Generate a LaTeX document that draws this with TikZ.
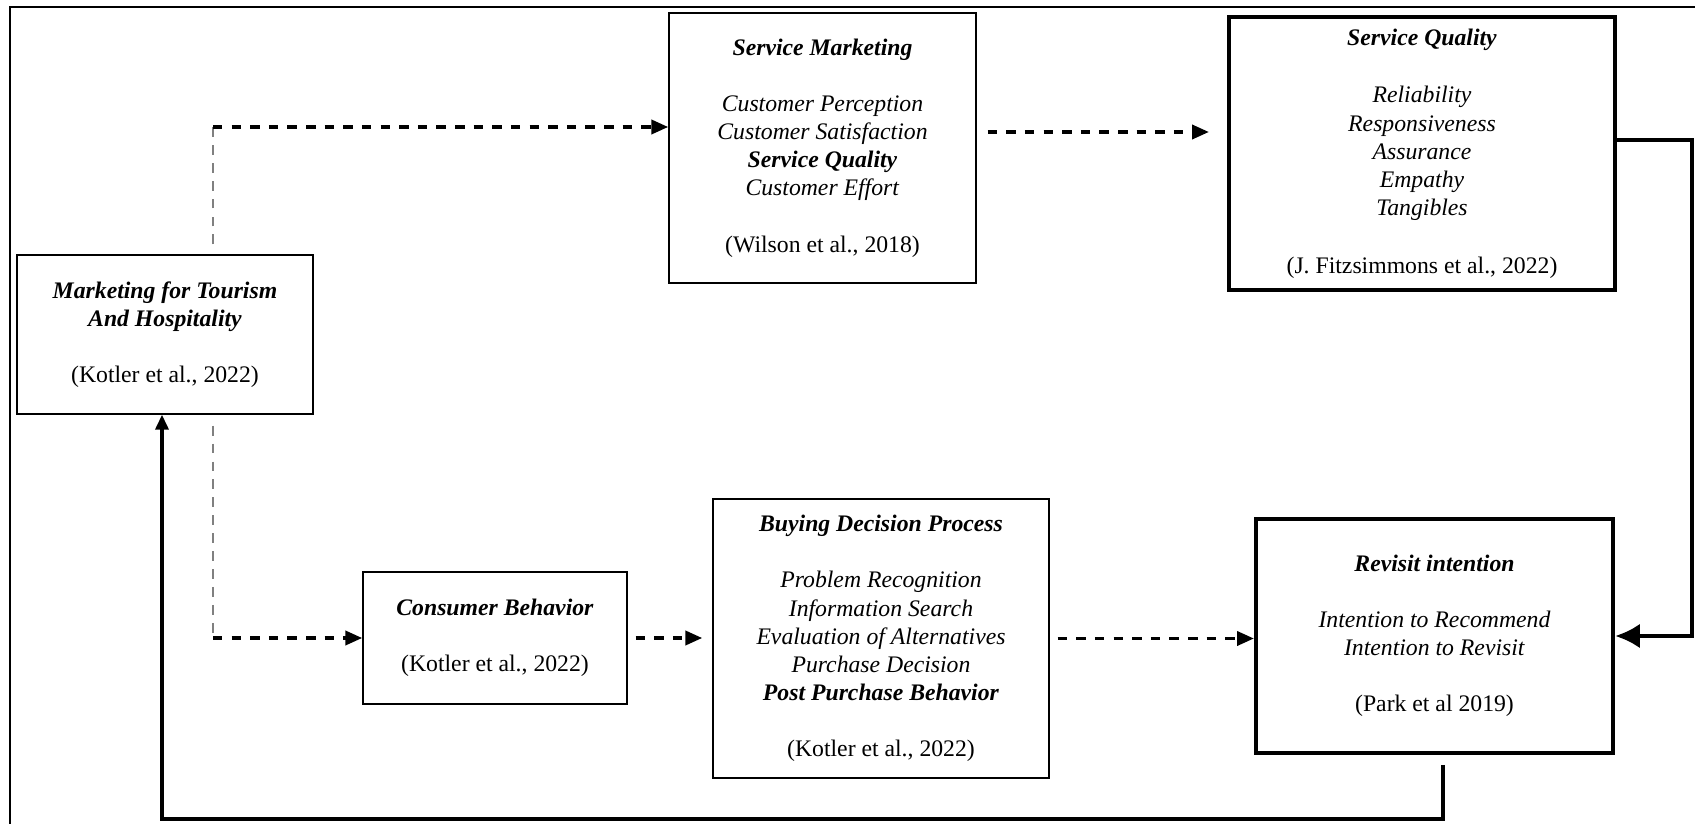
\documentclass[tikz,border=0pt]{standalone}
\usepackage{fontspec}
\setmainfont{Liberation Serif}
\usetikzlibrary{arrows.meta}

\begin{document}
\begin{tikzpicture}[x=0.02cm,y=-0.02cm,
  font=\fontsize{13.5}{16}\selectfont,
  box/.style={draw,line width=0.8pt,align=center,inner sep=0pt},
  heavybox/.style={box,line width=2.3pt},
  flowdash/.style={line width=2.1pt,dash pattern=on 5.4pt off 5.2pt,-{Triangle[length=0.34cm,width=0.28cm]}},
  greydash/.style={black!50,line width=1.4pt,dash pattern=on 5.6pt off 4.6pt},
  thickflow/.style={line width=2.8pt,-{Latex[length=0.5cm,width=0.5cm]}},
  backflow/.style={line width=2pt,-{Triangle[length=0.3cm,width=0.26cm]}}]
\useasboundingbox (0,0) rectangle (1695,824);
\draw [line width=1.2pt] (10,824) -- (10,7) -- (1695,7);
\node [box,minimum width=5.92cm,minimum height=3.18cm] (mth) at (165,334.5)
  {\textbf{\textit{Marketing for Tourism}}\\ \textbf{\textit{And Hospitality}}\\[16pt] (Kotler et al., 2022)};
\node [box,minimum width=6.14cm,minimum height=5.4cm] (sm) at (822.5,148)
  {\textbf{\textit{Service Marketing}}\\[16pt] \textit{Customer Perception}\\ \textit{Customer Satisfaction}\\
   \textbf{\textit{Service Quality}}\\ \textit{Customer Effort}\\[16pt] (Wilson et al., 2018)};
\node [heavybox,minimum width=7.72cm,minimum height=5.46cm] (sq) at (1422,153.5)
  {\textbf{\textit{Service Quality}}\\[17pt] \textit{Reliability}\\ \textit{Responsiveness}\\ \textit{Assurance}\\
   \textit{Empathy}\\ \textit{Tangibles}\\[17pt] (J. Fitzsimmons et al., 2022)};
\node [box,minimum width=5.28cm,minimum height=2.64cm] (cb) at (495,638)
  {\textbf{\textit{Consumer Behavior}}\\[16pt] (Kotler et al., 2022)};
\node [box,minimum width=6.72cm,minimum height=5.58cm] (bdp) at (881,638.5)
  {\textbf{\textit{Buying Decision Process}}\\[16pt] \textit{Problem Recognition}\\ \textit{Information Search}\\
   \textit{Evaluation of Alternatives}\\ \textit{Purchase Decision}\\ \textbf{\textit{Post Purchase Behavior}}\\[16pt]
   (Kotler et al., 2022)};
\node [heavybox,minimum width=7.14cm,minimum height=4.68cm] (ri) at (1434.5,636)
  {\textbf{\textit{Revisit intention}}\\[16pt] \textit{Intention to Recommend}\\ \textit{Intention to Revisit}\\[16pt]
   (Park et al 2019)};
\coordinate (upbend) at (213,127);
\coordinate (lowbend) at (213,638);
\coordinate (smsq) at (0,132);
\coordinate (rcorner) at (1692,140);
\coordinate (fbx) at (1443,0);
\coordinate (fbcorner) at (162,819);
\draw [greydash] ([yshift=0.2cm]mth.north -| upbend) -- (upbend);
\draw [flowdash] (upbend) -- (sm.west |- upbend);
\draw [greydash] ([yshift=-0.22cm]mth.south -| lowbend) -- (lowbend);
\draw [flowdash] (lowbend) -- (cb.west);
\draw [flowdash] ([xshift=0.16cm]cb.east) -- ([xshift=-0.2cm]bdp.west |- cb.east);
\draw [flowdash] ([xshift=0.16cm]bdp.east) -- (ri.west |- bdp.east);
\draw [flowdash] ([xshift=0.22cm]sm.east |- smsq) -- ([xshift=-0.36cm]sq.west |- smsq);
\draw [thickflow] (sq.east |- rcorner) -- (rcorner) -- (rcorner |- ri.east) -- (ri.east);
\draw [backflow] ([yshift=-0.2cm]ri.south -| fbx) -- (fbx |- fbcorner) -- (fbcorner) -- (fbcorner |- mth.south);
\end{tikzpicture}
\end{document}
